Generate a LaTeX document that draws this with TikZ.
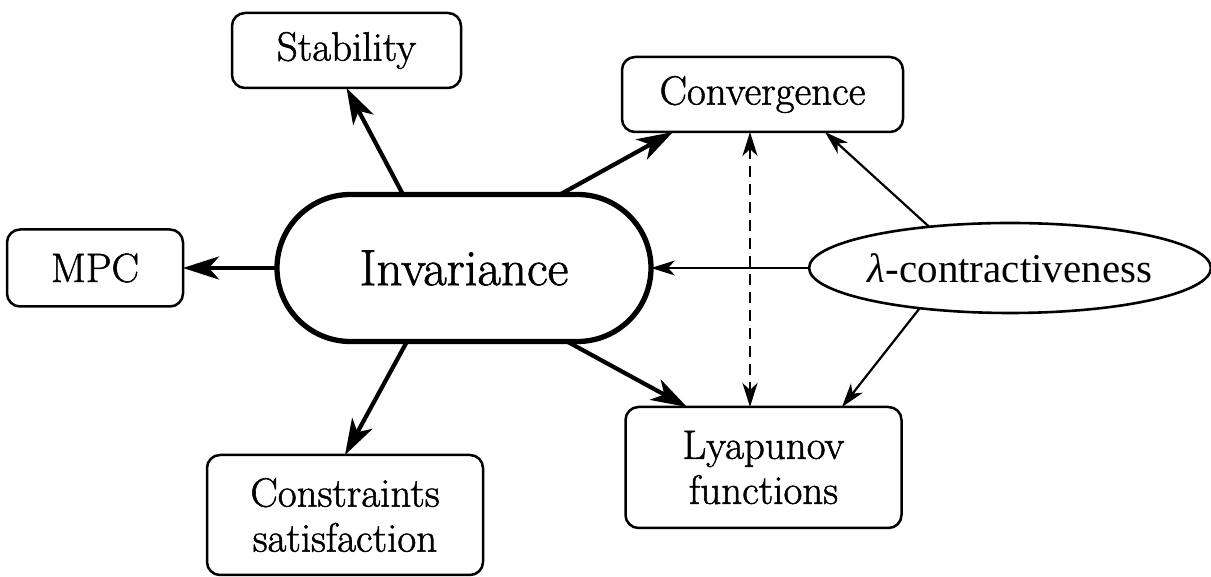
\documentclass[tikz,border=0pt]{standalone}
\usepackage{fontspec}
\setmainfont{Latin Modern Roman}[RawFeature={embolden=1.3}]
\newfontfamily\timesf{Liberation Serif}
\usetikzlibrary{arrows.meta,shapes.misc,shapes.geometric}
\begin{document}
\begin{tikzpicture}[x=1pt,y=1pt,
  box/.style={draw, line width=2.5pt, rounded corners=13pt, inner sep=0pt, outer sep=0pt,
    align=center, font=\fontsize{41}{45}\selectfont},
  bigarrow/.style={line width=4.2pt, -{Stealth[length=36pt,width=23pt,inset=10pt]}},
  smallarrow/.style={line width=2.2pt, -{Stealth[length=24pt,width=15pt,inset=7pt]}},
  dasharrow/.style={line width=2.2pt, dash pattern=on 11pt off 7pt,
    {Stealth[length=24pt,width=15pt,inset=7pt]}-{Stealth[length=24pt,width=15pt,inset=7pt]}},
]
\useasboundingbox (0,0) rectangle (1211,577);

\node[box, minimum width=229pt, minimum height=75pt] (stab) at (346.5,526.5) {Stability};
\node[box, minimum width=281pt, minimum height=75pt] (conv) at (762.5,482.5) {Convergence};
\node[box, minimum width=176pt, minimum height=77pt] (mpc) at (95,309) {MPC};
\node[box, minimum width=276pt, minimum height=120pt] (cons) at (345,62) {Constraints\\satisfaction};
\node[box, minimum width=276pt, minimum height=121pt] (lyap) at (763.5,109.5) {Lyapunov\\functions};

\node[draw, rounded rectangle, line width=5.3pt, minimum width=374pt, minimum height=147pt,
  inner sep=0pt, outer sep=0pt, font=\fontsize{51}{56}\selectfont] (inv) at (464,309) {Invariance};

\node[draw, ellipse, line width=2.6pt, minimum width=396pt, minimum height=90pt,
  inner sep=0pt, outer sep=0pt] (lam) at (1010,309)
  {\timesf\fontsize{41}{45}\selectfont{\itshape λ}-contractiveness};

\draw[bigarrow] ([xshift=-61pt]inv.north) -- (stab.south);
\draw[bigarrow] ([xshift=96pt]inv.north) -- ([xshift=-89.5pt]conv.south);
\draw[bigarrow] (inv.west) -- (mpc.east);
\draw[bigarrow] ([xshift=-57pt]inv.south) -- (cons.north);
\draw[bigarrow] ([xshift=103pt]inv.south) -- ([xshift=-76.5pt]lyap.north);

\draw[smallarrow] (lam.west) -- (inv.east);
\draw[smallarrow] (lam.153) -- ([xshift=62.5pt]conv.south);
\draw[smallarrow] (lam.204) -- ([xshift=78.5pt]lyap.north);
\draw[dasharrow] ([xshift=-12.5pt]conv.south) -- ([xshift=-13.5pt]lyap.north);
\end{tikzpicture}
\end{document}
